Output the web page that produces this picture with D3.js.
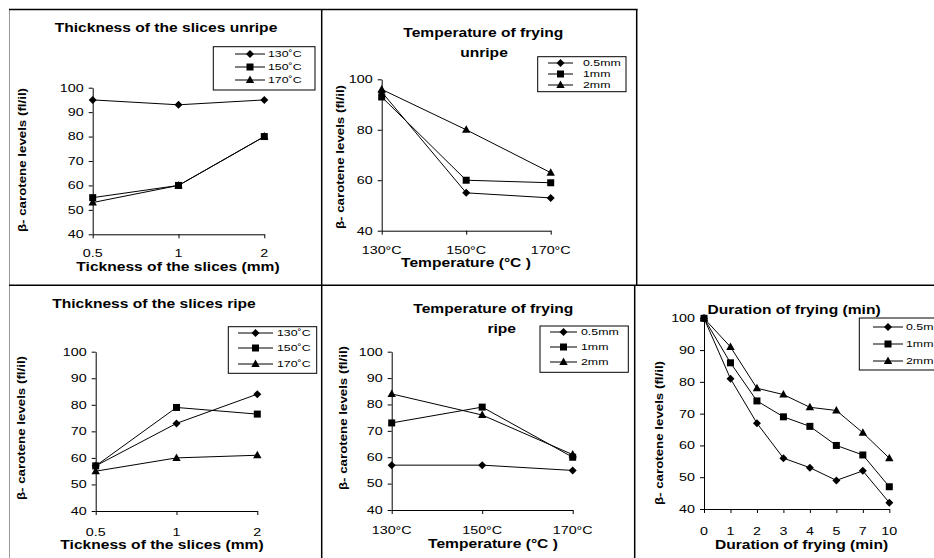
<!DOCTYPE html>
<html><head><meta charset="utf-8">
<script src="https://cdn.jsdelivr.net/npm/d3@7"></script>
<style>
body{margin:0;background:#fff;}
svg{display:block;font-family:"Liberation Sans",Arial,sans-serif;}
</style></head><body>
<svg id="c" width="934" height="558"></svg>
<script>
// ---------- data ----------
const thicknessCats = ["0.5", "1", "2"];
const tempCats = ["130°C", "150°C", "170°C"];
const durationCats = ["0", "1", "2", "3", "4", "5", "7", "10"];
const tempSeriesNames = ["130˚C", "150˚C", "170˚C"];
const thickSeriesNames = ["0.5mm", "1mm", "2mm"];

// Thickness of the slices unripe
const unripeThick130 = [95, 93, 95];
const unripeThick150 = [55, 60, 80];
const unripeThick170 = [53, 60, 80];
// Temperature of frying unripe
const unripeTemp05 = [95, 55, 53];
const unripeTemp1 = [93, 60, 59];
const unripeTemp2 = [96, 80, 63];
// Thickness of the slices ripe
const ripeThick130 = [57, 73, 84];
const ripeThick150 = [57, 79, 76.5];
const ripeThick170 = [55, 60, 61];
// Temperature of frying ripe
const ripeTemp05 = [57, 57, 55];
const ripeTemp1 = [73, 79, 60];
const ripeTemp2 = [84, 76, 61];
// Duration of frying
const dur05 = [100, 81, 67, 56, 53, 49, 52, 42];
const dur1 = [100, 86, 74, 69, 66, 60, 57, 47];
const dur2 = [100, 91, 78, 76, 72, 71, 64, 56];

const yTicks10 = [40, 50, 60, 70, 80, 90, 100];
const yTicks20 = [40, 60, 80, 100];
const yTitleText = "β- carotene levels (fl/il)";

// ---------- layout ----------
const SX = 1.3;
const svg = d3.select("#c");
const markerTypes = ["diamond", "square", "triangle"];

const panels = [
  {titles: [["Thickness of the slices unripe", 166, 28]], cats: thicknessCats,
   series: [unripeThick130, unripeThick150, unripeThick170], names: tempSeriesNames,
   x0: 92.7, x1: 264.3, yTop: 87.7, yBot: 234.3, ticks: yTicks10, tickY: 253,
   xTitle: ["Tickness of the slices (mm)", 178, 267], yTitle: [22.7, 160],
   legend: {x0: 213.3, y0: 46.7, x1: 315, y1: 90, rows: [54, 67, 80], lx0: 235, lx1: 265, tx: 268}},
  {titles: [["Temperature of frying", 483.3, 33], ["unripe", 484, 53]], cats: tempCats,
   series: [unripeTemp05, unripeTemp1, unripeTemp2], names: thickSeriesNames,
   x0: 381.7, x1: 550.7, yTop: 79.3, yBot: 230.7, ticks: yTicks20, tickY: 250,
   xTitle: ["Temperature (°C )", 466, 263], yTitle: [340, 157],
   legend: {x0: 537.7, y0: 56.7, x1: 626, y1: 91.7, rows: [63, 74, 85], lx0: 548, lx1: 573, tx: 583}},
  {titles: [["Thickness of the slices ripe", 154, 303.3]], cats: thicknessCats,
   series: [ripeThick130, ripeThick150, ripeThick170], names: tempSeriesNames,
   x0: 95.7, x1: 257.3, yTop: 351.7, yBot: 511, ticks: yTicks10, tickY: 531.7,
   xTitle: ["Tickness of the slices (mm)", 162, 545], yTitle: [21.7, 428],
   legend: {x0: 228.3, y0: 326.7, x1: 316.7, y1: 373.3, rows: [333, 348, 364], lx0: 238, lx1: 273, tx: 277}},
  {titles: [["Temperature of frying", 493.3, 308.3], ["ripe", 501.7, 328.3]], cats: tempCats,
   series: [ripeTemp05, ripeTemp1, ripeTemp2], names: thickSeriesNames,
   x0: 391.7, x1: 572.7, yTop: 351.7, yBot: 510, ticks: yTicks10, tickY: 530,
   xTitle: ["Temperature (°C )", 493, 544], yTitle: [343.3, 418],
   legend: {x0: 540, y0: 326, x1: 628.3, y1: 372.3, rows: [332, 347, 362], lx0: 550, lx1: 577, tx: 581}},
  {titles: [["Duration of frying (min)", 794, 310]], cats: durationCats,
   series: [dur05, dur1, dur2], names: thickSeriesNames,
   x0: 704, x1: 889.3, yTop: 318.3, yBot: 509, ticks: yTicks10, tickY: 530.7,
   xTitle: ["Duration of frying (min)", 801.5, 544.3], yTitle: [659.3, 433],
   legend: {x0: 859.3, y0: 318, x1: 945, y1: 370, rows: [327, 344, 361], lx0: 873, lx1: 903, tx: 906}}
];

// ---------- borders ----------
const border = svg.append("g").attr("fill", "none");
border.append("line").attr("x1", 9.5).attr("y1", 9.5).attr("x2", 9.5).attr("y2", 558).attr("stroke", "#9a9a9a").attr("stroke-width", 1);
border.append("line").attr("x1", 9).attr("y1", 9.5).attr("x2", 637.5).attr("y2", 9.5).attr("stroke", "#000").attr("stroke-width", 1.5);
border.append("line").attr("x1", 636.7).attr("y1", 9).attr("x2", 636.7).attr("y2", 285.5).attr("stroke", "#000").attr("stroke-width", 1.5);
border.append("line").attr("x1", 321.7).attr("y1", 9).attr("x2", 321.7).attr("y2", 558).attr("stroke", "#000").attr("stroke-width", 1.5);
border.append("line").attr("x1", 9).attr("y1", 285.3).attr("x2", 934).attr("y2", 285.3).attr("stroke", "#000").attr("stroke-width", 1.5);
border.append("line").attr("x1", 634.7).attr("y1", 285).attr("x2", 634.7).attr("y2", 558).attr("stroke", "#000").attr("stroke-width", 1.5);

function sText(g, x, y, str, size, weight, anchor) {
  return g.append("text")
    .attr("transform", `translate(${x},${y}) scale(${SX},1)`)
    .attr("text-anchor", anchor || "middle")
    .attr("dy", "0.35em")
    .attr("font-size", size)
    .attr("font-weight", weight || "normal")
    .attr("fill", "#000")
    .text(str);
}

function marker(g, type, cx, cy) {
  if (type === "diamond") {
    g.append("path").attr("d", `M${cx},${cy - 4}L${cx + 4},${cy}L${cx},${cy + 4}L${cx - 4},${cy}Z`).attr("fill", "#000");
  } else if (type === "square") {
    g.append("rect").attr("x", cx - 3.5).attr("y", cy - 3.5).attr("width", 7).attr("height", 7).attr("fill", "#000");
  } else {
    g.append("path").attr("d", `M${cx},${cy - 4.5}L${cx + 4.2},${cy + 3}L${cx - 4.2},${cy + 3}Z`).attr("fill", "#000");
  }
}

panels.forEach(p => {
  const g = svg.append("g");
  const x = d3.scalePoint().domain(p.cats).range([p.x0, p.x1]).padding(0);
  const y = d3.scaleLinear().domain([40, 100]).range([p.yBot, p.yTop]);

  // y axis
  const ya = g.append("g").attr("transform", `translate(${p.x0},0)`)
    .call(d3.axisLeft(y).tickValues(p.ticks).tickSize(4).tickSizeOuter(0).tickFormat(d3.format("d")));
  ya.selectAll("text").remove();
  ya.selectAll("path,line").attr("stroke", "#000");
  // x axis
  const xa = g.append("g").attr("transform", `translate(0,${p.yBot})`)
    .call(d3.axisBottom(x).tickSize(4).tickSizeOuter(0));
  xa.selectAll("text").remove();
  xa.selectAll("path,line").attr("stroke", "#000");

  // tick labels
  p.ticks.forEach(t => sText(g, p.x0 - 9, y(t), d3.format("d")(t), 11, "normal", "end"));
  p.cats.forEach(c => sText(g, x(c), p.tickY, c, 11, "normal", "middle"));

  // titles
  p.titles.forEach(t => sText(g, t[1], t[2], t[0], 12, "bold", "middle"));
  sText(g, p.xTitle[1], p.xTitle[2], p.xTitle[0], 12, "bold", "middle");
  g.append("text")
    .attr("transform", `translate(${p.yTitle[0]},${p.yTitle[1]}) rotate(-90)`)
    .attr("text-anchor", "middle").attr("dy", "0.35em")
    .attr("font-size", 10).attr("font-weight", "bold")
    .attr("textLength", 144).attr("lengthAdjust", "spacingAndGlyphs")
    .text(yTitleText);

  // lines
  const line = d3.line().x((d, i) => x(p.cats[i])).y(d => y(d));
  p.series.forEach(s => {
    g.append("path").datum(s).attr("d", line).attr("fill", "none").attr("stroke", "#000").attr("stroke-width", 1);
  });
  // markers: triangle, diamond, square order
  [2, 0, 1].forEach(si => {
    p.series[si].forEach((v, i) => marker(g, markerTypes[si], x(p.cats[i]), y(v)));
  });

  // legend
  const L = p.legend;
  g.append("rect").attr("x", L.x0).attr("y", L.y0).attr("width", L.x1 - L.x0).attr("height", L.y1 - L.y0)
    .attr("fill", "#fff").attr("stroke", "#000").attr("stroke-width", 1);
  p.names.forEach((n, i) => {
    g.append("line").attr("x1", L.lx0).attr("x2", L.lx1).attr("y1", L.rows[i]).attr("y2", L.rows[i]).attr("stroke", "#000");
    marker(g, markerTypes[i], (L.lx0 + L.lx1) / 2, L.rows[i]);
    sText(g, L.tx, L.rows[i], n, 9.5, "normal", "start");
  });
});
</script>
</body></html>
